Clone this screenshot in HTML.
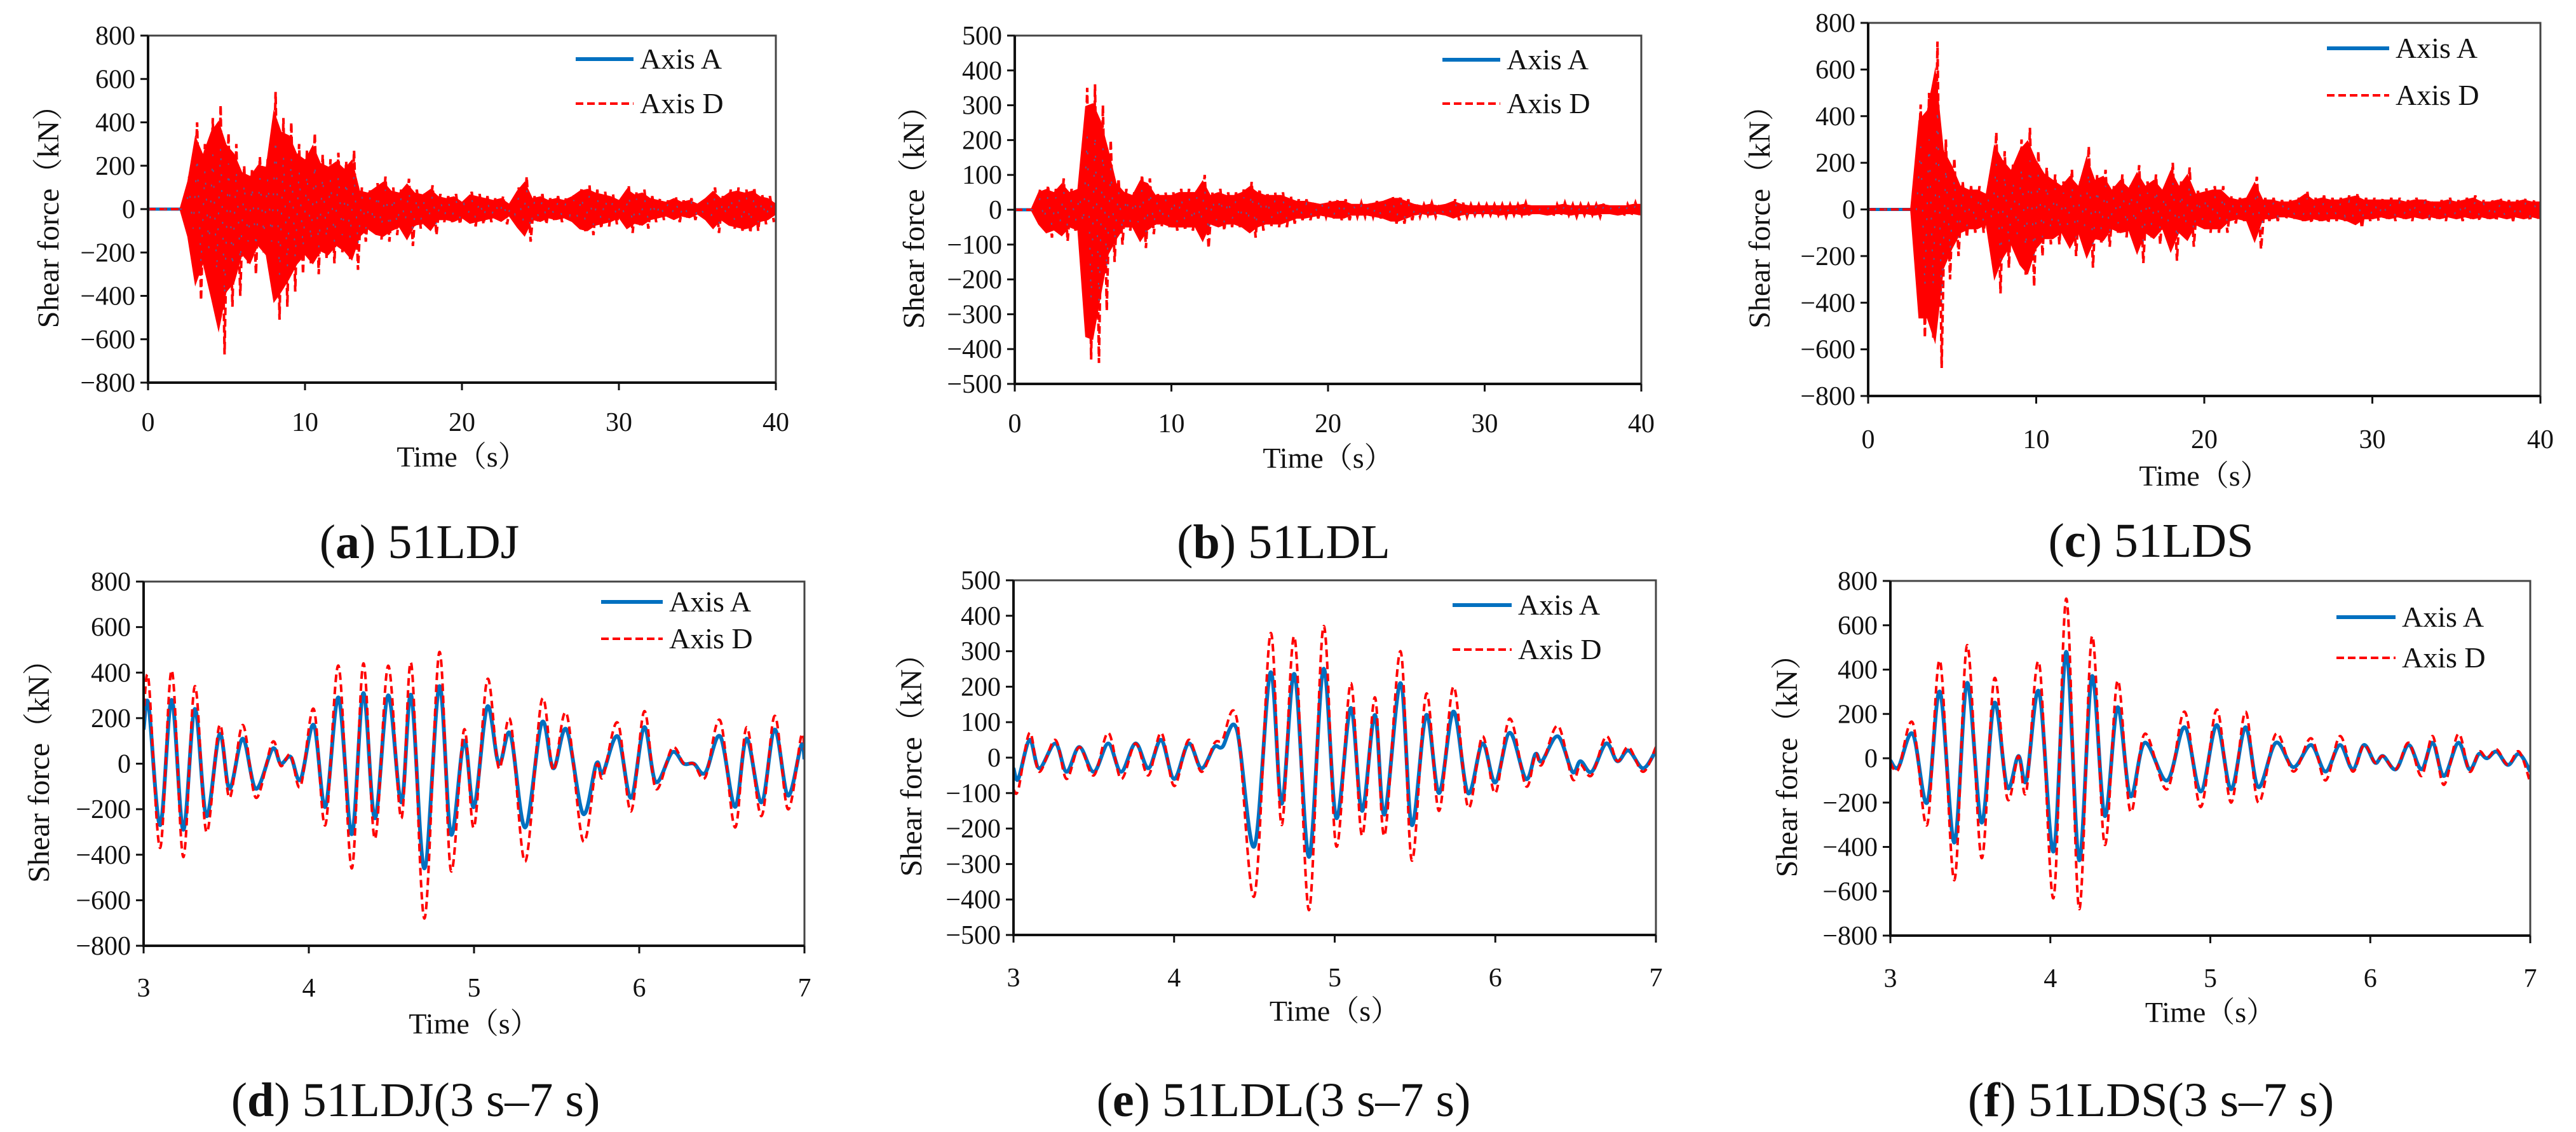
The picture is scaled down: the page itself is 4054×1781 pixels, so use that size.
<!DOCTYPE html>
<html><head><meta charset="utf-8"><style>
html,body{margin:0;padding:0;background:#fff;}
svg{display:block;font-family:"Liberation Serif","Noto Serif CJK SC",serif;}
svg text{font-family:"Liberation Serif","Noto Serif CJK SC",serif;fill:#111;}
</style></head><body>
<svg id="fig" width="4054" height="1781" viewBox="0 0 4054 1781" xmlns="http://www.w3.org/2000/svg" font-family="Liberation Serif, Noto Serif CJK SC, serif"></svg>
<script>
// ---- Panels a-c: envelope data (0.5 s bins, 0..40 s) ----
const aUp=[0,0,0,0,0,150,400,300,420,480,350,300,200,180,240,230,540,420,400,300,270,350,250,230,260,220,270,100,90,120,150,100,90,140,90,80,110,70,60,70,40,80,70,60,50,60,30,100,150,60,70,50,60,50,70,100,110,90,80,70,50,110,80,90,60,50,40,60,40,50,30,60,100,60,90,100,90,100,70,60,30];
const aLo=[0,0,0,0,0,-150,-420,-300,-480,-670,-450,-400,-250,-300,-200,-250,-510,-450,-380,-300,-250,-300,-230,-250,-200,-230,-280,-150,-110,-140,-150,-120,-100,-170,-90,-80,-120,-60,-60,-70,-50,-80,-70,-60,-50,-70,-40,-100,-150,-60,-70,-50,-60,-50,-70,-110,-120,-90,-80,-70,-50,-110,-80,-90,-60,-50,-40,-60,-40,-50,-30,-60,-110,-60,-90,-100,-110,-100,-70,-60,-30];
const bUp=[0,0,0,60,70,60,90,60,70,350,360,300,200,90,60,50,100,90,50,50,50,60,60,60,100,50,60,50,50,60,80,60,50,50,50,40,30,30,25,20,25,30,30,20,20,20,25,30,40,40,30,20,15,20,15,20,30,20,15,15,15,15,15,15,15,20,15,15,15,15,20,15,15,15,15,20,15,15,15,20,20];
const bLo=[0,0,0,-50,-80,-70,-90,-60,-70,-430,-440,-290,-150,-100,-60,-60,-110,-70,-50,-50,-60,-60,-60,-60,-110,-50,-60,-50,-50,-60,-80,-60,-50,-50,-50,-40,-30,-30,-25,-20,-25,-30,-30,-20,-20,-20,-25,-30,-40,-40,-30,-20,-15,-20,-15,-20,-30,-20,-15,-15,-15,-15,-20,-15,-15,-20,-15,-15,-20,-15,-15,-20,-15,-15,-20,-15,-15,-20,-15,-15,-20];
const cUp=[0,0,0,0,0,0,450,500,720,300,220,120,100,100,80,330,250,200,300,350,250,180,150,120,170,120,270,150,170,100,150,110,190,120,150,100,200,120,180,80,90,100,100,60,50,60,140,50,50,40,40,50,80,50,60,50,50,60,70,50,50,50,50,50,40,50,50,40,40,50,40,50,60,40,40,50,40,40,50,40,40];
const cLo=[0,0,0,0,0,0,-550,-550,-680,-300,-200,-120,-100,-100,-80,-360,-250,-180,-280,-330,-200,-150,-150,-120,-200,-120,-250,-150,-160,-100,-120,-110,-230,-120,-150,-100,-220,-120,-160,-80,-100,-100,-100,-60,-50,-60,-170,-50,-50,-40,-40,-50,-60,-50,-60,-50,-50,-60,-80,-50,-50,-40,-50,-40,-50,-40,-50,-40,-50,-40,-50,-40,-50,-40,-50,-40,-50,-40,-50,-40,-50];
const envStep=0.5;
// ---- Panels d-f: extrema (time s, kN) ----
const dT=[3.0,3.03,3.1,3.17,3.24,3.31,3.38,3.46,3.52,3.6,3.68,3.78,3.83,3.89,3.95,4.03,4.1,4.18,4.26,4.33,4.4,4.48,4.56,4.62,4.7,4.79,4.86,4.94,5.0,5.08,5.15,5.22,5.31,5.41,5.48,5.56,5.66,5.74,5.78,5.87,5.95,6.03,6.1,6.2,6.27,6.33,6.4,6.49,6.58,6.65,6.74,6.82,6.9,6.98,7.0];
const dA=[150,260,-270,280,-290,240,-230,130,-110,110,-110,65,0,30,-70,170,-190,290,-310,310,-240,300,-170,300,-460,340,-310,100,-190,250,0,130,-280,180,-20,150,-220,0,-40,120,-150,160,-80,50,0,0,-40,120,-190,110,-170,150,-140,80,20];
const dD=[200,370,-370,410,-410,340,-300,170,-150,170,-150,95,-10,40,-100,240,-270,430,-460,440,-330,430,-240,440,-680,490,-470,150,-280,370,-20,190,-430,280,-30,220,-340,-10,-60,180,-210,230,-110,70,0,0,-60,190,-280,160,-230,210,-200,120,60];
const eT=[3.0,3.03,3.1,3.16,3.26,3.33,3.41,3.5,3.59,3.67,3.76,3.84,3.92,4.0,4.09,4.17,4.25,4.3,4.39,4.5,4.6,4.67,4.75,4.84,4.93,5.01,5.1,5.17,5.25,5.31,5.41,5.48,5.57,5.65,5.74,5.83,5.92,6.0,6.09,6.19,6.25,6.29,6.39,6.48,6.53,6.6,6.69,6.76,6.83,6.92,7.0];
const eA=[-30,-60,50,-30,40,-40,30,-40,40,-40,40,-30,50,-60,40,-30,30,30,80,-250,240,-130,235,-280,250,-170,140,-150,120,-160,210,-190,120,-100,130,-100,40,-70,70,-60,10,-10,60,-40,-10,-40,40,-10,20,-30,20];
const eD=[-90,-90,70,-40,50,-60,30,-50,70,-60,40,-50,70,-80,50,-40,40,50,110,-390,350,-190,340,-430,370,-250,210,-220,170,-220,300,-290,180,-150,200,-140,60,-100,110,-80,10,-20,90,-60,-20,-50,60,-10,30,-40,30];
const fT=[3.0,3.05,3.14,3.23,3.31,3.4,3.48,3.57,3.65,3.73,3.8,3.85,3.93,4.02,4.1,4.18,4.26,4.34,4.42,4.5,4.59,4.73,4.84,4.94,5.04,5.13,5.22,5.3,5.41,5.52,5.63,5.72,5.81,5.89,5.96,6.03,6.08,6.16,6.24,6.32,6.39,6.46,6.55,6.62,6.68,6.73,6.79,6.86,6.93,7.0];
const fA=[-10,-40,110,-200,300,-380,340,-290,250,-130,10,-100,300,-420,480,-460,370,-260,230,-170,70,-100,140,-150,150,-140,140,-130,70,-40,60,-60,60,-50,60,-20,10,-50,60,-50,70,-80,70,-50,20,0,30,-30,20,-60];
const fD=[-20,-50,160,-300,440,-550,510,-450,360,-180,10,-150,430,-630,720,-680,550,-390,350,-240,110,-140,210,-220,220,-200,210,-200,110,-60,90,-100,100,-60,60,-20,10,-50,70,-80,100,-120,110,-60,30,0,40,-30,30,-110];
// ---- tick labels ----
const ticks800=[-800,-600,-400,-200,0,200,400,600,800];
const ticks500=[-500,-400,-300,-200,-100,0,100,200,300,400,500];
const ticksT40=[0,10,20,30,40];
const ticksT7=[3,4,5,6,7];

const NS="http://www.w3.org/2000/svg";
const svg=document.getElementById('fig');
const FF='"Liberation Serif","Noto Serif CJK SC",serif';
function mk(tag,attrs,parent){const e=document.createElementNS(NS,tag);for(const k in attrs)e.setAttribute(k,attrs[k]);if(tag==='text')e.style.fontFamily=FF;(parent||svg).appendChild(e);return e;}

const panels=[
 {id:'a',L:233,R:1221,T:56,B:602,x0:0,x1:40,y0:-800,y1:800,yt:ticks800,xt:ticksT40,env:[aUp,aLo],tickY:663,timeY:718,capY:852,capX:660,yl:76,leg:[906,997,93,163],cap:['a',' 51LDJ']},
 {id:'b',L:1597,R:2583,T:56,B:604,x0:0,x1:40,y0:-500,y1:500,yt:ticks500,xt:ticksT40,env:[bUp,bLo],tickY:665,timeY:720,capY:852,capX:2020,yl:1438,leg:[2270,2361,94,163],cap:['b',' 51LDL']},
 {id:'c',L:2940,R:3998,T:36,B:623,x0:0,x1:40,y0:-800,y1:800,yt:ticks800,xt:ticksT40,env:[cUp,cLo],tickY:690,timeY:748,capY:850,capX:3385,yl:2769,leg:[3662,3760,76,150],cap:['c',' 51LDS']},
 {id:'d',L:226,R:1266,T:915,B:1488,x0:3,x1:7,y0:-800,y1:800,yt:ticks800,xt:ticksT7,ser:[dT,dA,dD],tickY:1553,timeY:1610,capY:1730,capX:654,yl:61,leg:[946,1043,947,1005],cap:['d',' 51LDJ(3 s–7 s)']},
 {id:'e',L:1595,R:2606,T:913,B:1471,x0:3,x1:7,y0:-500,y1:500,yt:ticks500,xt:ticksT7,ser:[eT,eA,eD],tickY:1537,timeY:1590,capY:1730,capX:2020,yl:1434,leg:[2286,2379,952,1022],cap:['e',' 51LDL(3 s–7 s)']},
 {id:'f',L:2975,R:3982,T:914,B:1472,x0:3,x1:7,y0:-800,y1:800,yt:ticks800,xt:ticksT7,ser:[fT,fA,fD],tickY:1538,timeY:1592,capY:1730,capX:3385,yl:2812,leg:[3677,3770,971,1035],cap:['f',' 51LDS(3 s–7 s)']}
];

function smooth(pts){
  let d='M'+pts[0][0].toFixed(1)+','+pts[0][1].toFixed(1);
  for(let i=0;i<pts.length-1;i++){
    const p0=pts[Math.max(0,i-1)],p1=pts[i],p2=pts[i+1],p3=pts[Math.min(pts.length-1,i+2)];
    const c1x=p1[0]+(p2[0]-p0[0])/6,c1y=p1[1]+(p2[1]-p0[1])/6;
    const c2x=p2[0]-(p3[0]-p1[0])/6,c2y=p2[1]-(p3[1]-p1[1])/6;
    d+=' C'+c1x.toFixed(1)+','+c1y.toFixed(1)+' '+c2x.toFixed(1)+','+c2y.toFixed(1)+' '+p2[0].toFixed(1)+','+p2[1].toFixed(1);
  }
  return d;
}

panels.forEach(p=>{
  const g=mk('g',{});
  
  
  const X=v=>p.L+(v-p.x0)/(p.x1-p.x0)*(p.R-p.L);
  const Y=v=>p.B-(v-p.y0)/(p.y1-p.y0)*(p.B-p.T);
  const clipId='clip'+p.id;
  const cp=mk('clipPath',{id:clipId},g);
  mk('rect',{x:p.L,y:p.T,width:p.R-p.L,height:p.B-p.T},cp);
  const plot=mk('g',{'clip-path':'url(#'+clipId+')'},g);
  
  
  if(p.env){
    const up=p.env[0],lo=p.env[1];
    const n=Math.min(up.length,lo.length);
    const bl=mk('path',{d:'M'+X(0)+','+Y(0)+' L'+X(p.x1)+','+Y(0),stroke:'#0070C0','stroke-width':5,fill:'none'},plot);
    
    
    let top='',bot='';
    for(let i=0;i<n;i++){top+=(i?' L':'M')+X(i*envStep).toFixed(1)+','+Y(up[i]*0.85).toFixed(1);}
    for(let i=n-1;i>=0;i--){bot+=' L'+X(i*envStep).toFixed(1)+','+Y(lo[i]*0.85).toFixed(1);}
    const area=mk('path',{d:top+bot+' Z',fill:'#ff0000',stroke:'none'},plot);
    
    
    let z='M'+X(0)+','+Y(0);
    for(let i=0;i<n-1;i++){
      z+=' L'+X(i*envStep+0.125).toFixed(1)+','+Y(up[i]).toFixed(1)+' L'+X(i*envStep+0.375).toFixed(1)+','+Y(lo[i]).toFixed(1);
    }
    const zz=mk('path',{d:z,stroke:'#ff0000','stroke-width':4,fill:'none','stroke-dasharray':'12 6'},plot);
    
    
    let zb='M'+X(0)+','+Y(0);
    for(let i=0;i<n-1;i++){
      zb+=' L'+X(i*envStep+0.125).toFixed(1)+','+Y(up[i]*0.6).toFixed(1)+' L'+X(i*envStep+0.375).toFixed(1)+','+Y(lo[i]*0.6).toFixed(1);
    }
    const zbp=mk('path',{d:zb,stroke:'#1a7fd0','stroke-width':2,fill:'none','stroke-dasharray':'3 22',opacity:0.7},plot);
    
    
  } else {
    const T=p.ser[0],A=p.ser[1],D=p.ser[2];
    const pa=T.map((t,i)=>[X(t),Y(A[i])]);
    const pd=T.map((t,i)=>[X(t),Y(D[i])]);
    const la=mk('path',{d:smooth(pa),stroke:'#0070C0','stroke-width':6,fill:'none','stroke-linejoin':'round'},plot);
    
    
    const ld=mk('path',{d:smooth(pd),stroke:'#ff0000','stroke-width':4,fill:'none','stroke-dasharray':'12 7'},plot);
    
    
  }
  const fr=mk('path',{d:'M'+p.L+','+p.T+' L'+p.R+','+p.T+' L'+p.R+','+p.B,stroke:'#444','stroke-width':3,fill:'none'},g);
  
  
  const ax=mk('path',{d:'M'+p.L+','+p.T+' L'+p.L+','+p.B+' L'+p.R+','+p.B,stroke:'#111','stroke-width':4,fill:'none'},g);
  
  
  p.yt.forEach(v=>{
    const y=Y(v);
    mk('line',{x1:p.L-12,x2:p.L,y1:y,y2:y,stroke:'#111','stroke-width':3},g);
    const t=mk('text',{x:p.L-20,y:y+14,'text-anchor':'end','font-size':42},g);
    t.textContent=(v<0?'−'+(-v):String(v));
    
    
  });
  p.xt.forEach(v=>{
    const x=X(v);
    mk('line',{x1:x,x2:x,y1:p.B,y2:p.B+12,stroke:'#111','stroke-width':3},g);
    const t=mk('text',{x:x,y:p.tickY+15,'text-anchor':'middle','font-size':42},g);
    t.textContent=String(v);
    
    
  });
  const xt=mk('text',{x:(p.L+p.R)/2,y:p.timeY+16,'text-anchor':'middle','font-size':46},g);
  xt.textContent='Time（s）';
  
  
  const cy=(p.T+p.B)/2;
  const yt=mk('text',{x:p.yl,y:cy,'text-anchor':'middle','font-size':48,transform:'rotate(-90 '+p.yl+' '+cy+') translate(0 16)'},g);
  yt.textContent='Shear force（kN）';
  
  
  const [lx1,lx2,ly1,ly2]=p.leg;
  const lg=mk('g',{},g);
  
  
  mk('line',{x1:lx1,x2:lx2,y1:ly1,y2:ly1,stroke:'#0070C0','stroke-width':6},lg);
  mk('line',{x1:lx1,x2:lx2,y1:ly2,y2:ly2,stroke:'#ff0000','stroke-width':4,'stroke-dasharray':'12 6'},lg);
  const t1=mk('text',{x:lx2+10,y:ly1+15,'font-size':46},lg);
  t1.textContent='Axis A';
  
  
  const t2=mk('text',{x:lx2+10,y:ly2+15,'font-size':46},lg);
  t2.textContent='Axis D';
  
  
  const cap=mk('text',{x:p.capX,y:p.capY+26,'text-anchor':'middle','font-size':76},g);
  
  
  const s1=mk('tspan',{},cap);s1.textContent='(';
  const s2=mk('tspan',{'font-weight':'bold'},cap);s2.textContent=p.cap[0];
  const s3=mk('tspan',{},cap);s3.textContent=')'+p.cap[1];
});
</script>
</body></html>
